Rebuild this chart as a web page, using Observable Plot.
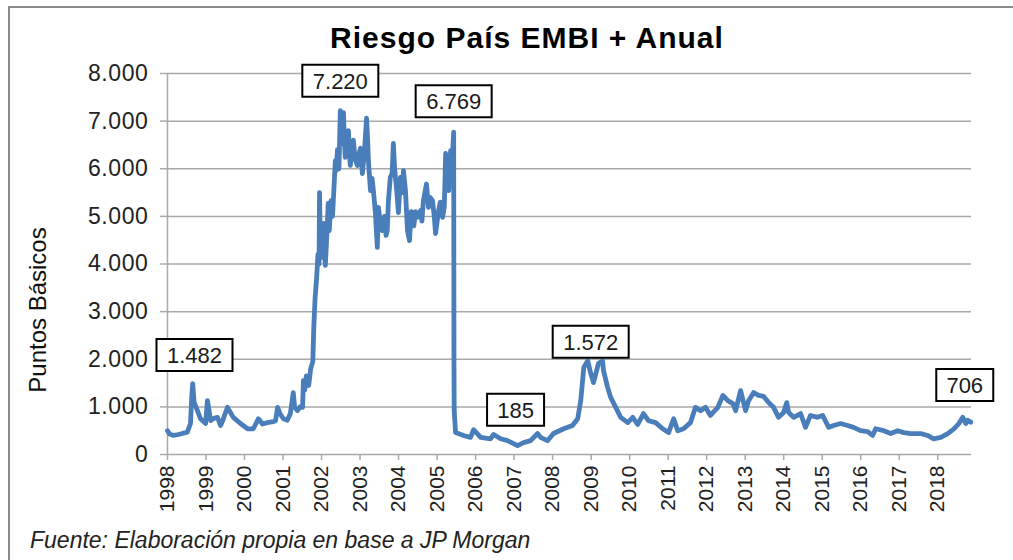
<!DOCTYPE html>
<html>
<head>
<meta charset="utf-8">
<script src="https://cdn.jsdelivr.net/npm/d3@7"></script>
<script src="https://cdn.jsdelivr.net/npm/@observablehq/plot@0.6"></script>
<style>
  html, body { margin: 0; padding: 0; background: #fff; overflow: hidden; }
  #wrap { position: relative; width: 1013px; height: 560px; overflow: hidden; font-family: "Liberation Sans", Arial, sans-serif; }
  #frame { position: absolute; left: 8px; top: 6px; width: 1100px; height: 700px; border-left: 2px solid #8a8a8a; border-top: 2px solid #8a8a8a; }
  #title { position: absolute; left: 0; top: 23px; width: 1054px; text-align: center; font-weight: bold; font-size: 30px; line-height: 30px; letter-spacing: 1px; color: #000; }
  #ylabel { position: absolute; left: -112px; top: 298px; width: 300px; text-align: center; font-size: 24px; line-height: 24px; color: #111; transform: rotate(-90deg); transform-origin: 50% 50%; white-space: nowrap; }
  #chart { position: absolute; left: 0; top: 60px; }
  #caption { position: absolute; left: 30px; top: 529px; font-style: italic; font-size: 23px; line-height: 23px; color: #222; white-space: nowrap; }
  #chart g[aria-label="y-axis tick label"] text { letter-spacing: 0.6px; }
</style>
</head>
<body>
<div id="wrap">
  <div id="frame"></div>
  <div id="title">Riesgo País EMBI + Anual</div>
  <div id="ylabel">Puntos Básicos</div>
  <div id="chart"></div>
  <div id="caption">Fuente: Elaboración propia en base a JP Morgan</div>
</div>
<script>
// ---- data ----
const dates = [
  "1998-01-01","1998-01-20","1998-02-28","1998-04-15","1998-05-20","1998-07-08","1998-08-07","1998-08-20","1998-08-28","1998-09-10",
  "1998-10-12","1998-11-10","1998-12-05","1998-12-28","1999-01-15","1999-02-14","1999-03-15","1999-04-20","1999-05-19","1999-06-10",
  "1999-07-05","1999-07-24","1999-09-17","1999-11-24","2000-01-30","2000-03-25","2000-05-12","2000-06-20","2000-08-06","2000-10-01",
  "2000-10-22","2000-11-10","2000-12-05","2001-01-04","2001-02-10","2001-03-11","2001-04-08","2001-04-20","2001-05-17","2001-06-10",
  "2001-07-05","2001-07-13","2001-07-25","2001-08-10","2001-09-01","2001-09-20","2001-10-10","2001-10-20","2001-11-01","2001-11-15",
  "2001-11-28","2001-12-08","2001-12-13","2001-12-20","2002-01-08","2002-01-20","2002-01-28","2002-02-06","2002-02-20","2002-03-05",
  "2002-03-15","2002-04-01","2002-04-15","2002-05-12","2002-05-20","2002-06-01","2002-06-15","2002-06-28","2002-07-08","2002-07-19",
  "2002-07-28","2002-08-05","2002-08-14","2002-08-28","2002-09-13","2002-09-22","2002-10-01","2002-10-15","2002-10-30","2002-11-15",
  "2002-12-07","2002-12-20","2003-01-05","2003-01-23","2003-02-10","2003-03-04","2003-03-12","2003-03-23","2003-04-10","2003-04-25",
  "2003-05-08","2003-05-27","2003-06-14","2003-06-24","2003-07-10","2003-08-01","2003-08-20","2003-09-05","2003-09-16","2003-09-27",
  "2003-10-15","2003-11-01","2003-11-13","2003-11-25","2003-12-12","2003-12-31","2004-01-19","2004-02-05","2004-02-17","2004-03-07",
  "2004-03-26","2004-04-14","2004-05-01","2004-05-12","2004-05-25","2004-06-10","2004-06-28","2004-07-27","2004-08-10","2004-08-24",
  "2004-09-22","2004-10-11","2004-10-25","2004-11-18","2004-12-05","2004-12-17","2005-01-15","2005-02-01","2005-02-22","2005-03-10",
  "2005-03-23","2005-04-05","2005-04-21","2005-05-09","2005-05-25","2005-06-07","2005-06-10","2005-06-12","2005-06-25","2005-09-09",
  "2005-11-14","2005-12-13","2006-02-18","2006-05-22","2006-06-21","2006-08-26","2006-10-31","2006-12-27","2007-02-03","2007-04-01",
  "2007-06-07","2007-08-12","2007-09-09","2007-11-14","2008-01-10","2008-04-16","2008-07-08","2008-08-26","2008-09-24","2008-10-23",
  "2008-11-29","2008-12-28","2009-01-23","2009-03-11","2009-04-19","2009-04-28","2009-06-06","2009-07-05","2009-08-22","2009-10-08",
  "2009-12-14","2010-01-30","2010-03-18","2010-05-12","2010-06-28","2010-09-04","2010-11-10","2011-01-05","2011-02-22","2011-04-02",
  "2011-05-27","2011-08-01","2011-09-17","2011-11-04","2011-12-21","2012-02-06","2012-04-16","2012-06-03","2012-07-20","2012-09-06",
  "2012-10-02","2012-11-18","2013-01-05","2013-02-02","2013-03-22","2013-05-08","2013-06-25","2013-08-11","2013-09-27","2013-11-13",
  "2013-12-31","2014-01-30","2014-02-17","2014-04-05","2014-06-10","2014-07-27","2014-09-12","2014-11-18","2015-01-05","2015-03-04",
  "2015-04-19","2015-06-25","2015-08-30","2015-10-25","2015-12-31","2016-03-07","2016-04-23","2016-05-22","2016-08-07","2016-10-12",
  "2016-12-17","2017-02-13","2017-04-19","2017-07-23","2017-09-27","2017-11-23","2018-01-30","2018-04-06","2018-06-03","2018-07-20",
  "2018-08-26","2018-09-24","2018-10-12","2018-11-10"
];
const values = [
  500,430,400,420,440,470,650,1250,1490,1100,
  920,750,700,650,1130,710,760,780,610,720,
  880,990,780,650,540,540,750,640,670,690,
  710,990,850,750,720,860,1300,1000,920,1000,
  990,1550,1350,1650,1450,1800,1950,2700,3300,3700,
  4200,4000,5500,4300,4140,4850,4300,3970,4600,5270,
  4700,5330,5000,6170,5960,6400,6000,7220,6900,6530,
  7180,6600,6240,6500,6800,6300,6070,6400,6600,6200,
  6070,6300,6430,5900,6300,7060,6700,6110,5540,5800,
  5540,5060,4350,5190,4900,4700,5000,4600,4700,5330,
  5820,5900,6530,6000,5610,5080,5820,5500,5960,5540,
  4700,4490,5100,5060,4800,5100,4980,5120,4900,5330,
  5680,5190,5400,5330,5000,4640,5120,5300,4980,5200,
  6320,5800,5540,6380,6200,6769,1830,920,460,400,
  360,520,360,330,420,330,290,230,185,250,
  290,440,360,290,440,540,610,750,1130,1830,
  1970,1700,1510,1910,1970,1760,1410,1200,990,780,
  670,780,630,860,710,670,540,460,750,500,
  540,670,990,920,990,820,990,1240,1130,1070,
  920,1340,920,1130,1300,1240,1220,1090,990,780,
  880,1090,880,780,860,570,820,780,820,570,
  610,650,610,570,500,480,400,540,500,440,
  500,460,440,440,400,330,360,440,540,650,
  780,650,720,680
];
const yTickValues = [0, 1000, 2000, 3000, 4000, 5000, 6000, 7000, 8000];
const xTickYears = [1998,1999,2000,2001,2002,2003,2004,2005,2006,2007,2008,2009,2010,2011,2012,2013,2014,2015,2016,2017,2018];
const annLabels = [1482, 7220, 6769, 1572, 185, 706];
const annDates = ["1998-08-26", "2002-06-28", "2005-06-07", "2008-11-29", "2007-02-03", "2018-11-10"];

// ---- build ----
const series = dates.map((d, i) => ({date: new Date(d), value: values[i]}));
const fmt = d3.formatLocale({decimal: ",", thousands: ".", grouping: [3], currency: ["$", ""]}).format(",");
const xTicks = xTickYears.map(y => new Date(Date.UTC(y, 0, 1)));
const annotations = annLabels.map((v, i) => ({date: new Date(annDates[i]), value: v, text: fmt(v)}));
// label-box offsets (layout, in pixels)
const annOffsets = [[2, -29], [0, -30], [0, -31], [3, -38], [-2, -36], [-6, -36]];

const gridColor = "#a9a9a9";
function boxSymbol(w, h) {
  return {draw(context) { context.rect(-w / 2, -h / 2, w, h); }};
}

const annMarks = annotations.flatMap((a, i) => {
  const [dx, dy] = annOffsets[i];
  const w = a.text.length * 9.5 + 28.5;
  return [
    Plot.dot([a], {x: "date", y: "value", dx, dy, symbol: boxSymbol(w, 32), r: 10, fill: "#fff", stroke: "#000", strokeWidth: 2}),
    Plot.text([a], {x: "date", y: "value", text: "text", dx, dy: dy + 1, fontSize: 22, fill: "#1a1a1a"})
  ];
});

const chart = Plot.plot({
  width: 1013,
  height: 460,
  marginTop: 13,
  marginBottom: 66,
  marginLeft: 167,
  marginRight: 42,
  style: {fontFamily: "'Liberation Sans', Arial, sans-serif", background: "transparent", color: "#222", overflow: "visible"},
  x: {type: "utc", domain: [new Date("1998-01-01"), new Date("2018-11-17")]},
  y: {domain: [0, 8000]},
  marks: [
    Plot.gridY(yTickValues, {stroke: gridColor, strokeOpacity: 1, strokeWidth: 1.5}),
    Plot.ruleX([new Date("1998-01-01")], {stroke: gridColor, strokeWidth: 1.5}),
    Plot.axisY(yTickValues, {tickSize: 7, tickPadding: 12, tickFormat: fmt, label: null, fontSize: 23, stroke: gridColor, strokeWidth: 1.5, fill: "#222"}),
    Plot.axisX(xTicks, {tickSize: 6, tickPadding: 5, tickRotate: -90, tickFormat: d3.utcFormat("%Y"), label: null, fontSize: 21, stroke: gridColor, strokeWidth: 1.5, fill: "#222"}),
    Plot.line(series, {x: "date", y: "value", stroke: "#4a7ebb", strokeWidth: 4.8, strokeLinejoin: "round", strokeLinecap: "round"}),
    ...annMarks
  ]
});
document.getElementById("chart").appendChild(chart);
</script>
</body>
</html>
